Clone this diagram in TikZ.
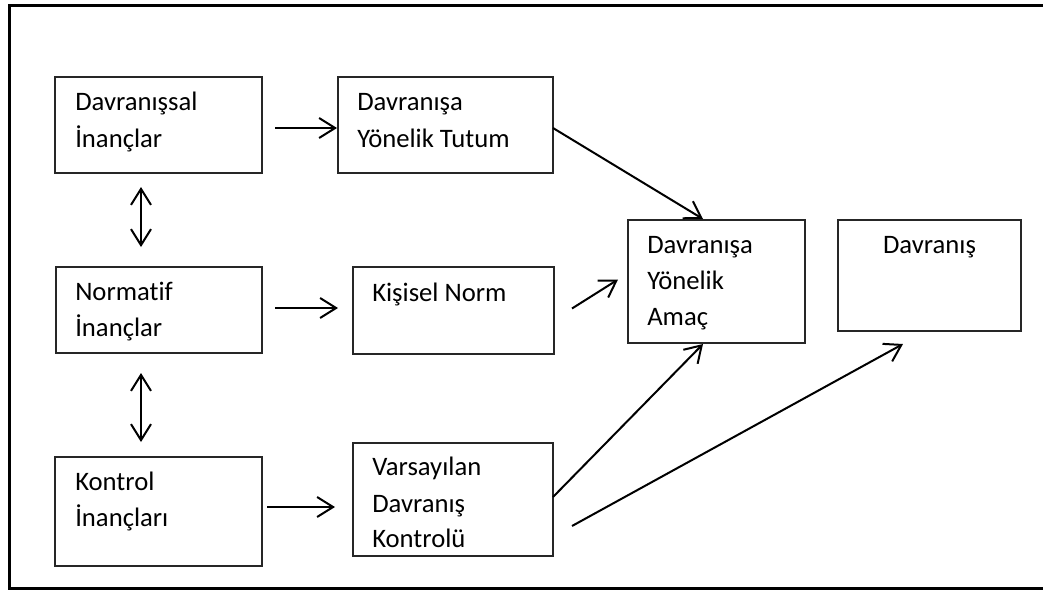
\documentclass[tikz,border=0pt]{standalone}
\usepackage{fontspec}
\setmainfont{Carlito}[Ligatures=NoCommon]
\usetikzlibrary{arrows.meta,calc}
\tikzset{
  box/.style={draw=black!85,line width=1pt,rectangle,inner sep=0pt,outer sep=0pt},
  txt/.style={anchor=base west,inner sep=0pt,font=\fontsize{20pt}{24pt}\selectfont},
  arr/.style={line width=1.5pt,-{Straight Barb[length=12pt,width=15pt,line width=1.5pt]}},
  darr/.style={line width=1.5pt,{Straight Barb[length=12pt,width=15pt,line width=1.5pt]}-{Straight Barb[length=12pt,width=15pt,line width=1.5pt]}},
  frame/.style={line width=2.25pt}
}
\begin{document}
\begin{tikzpicture}[x=0.75pt,y=-0.75pt]
\useasboundingbox (0,0) rectangle (1043,590);
\clip (0,0) rectangle (1043,590);
\fill[white] (0,0) rectangle (1043,590);
\draw[frame] (9,5) rectangle (1060,588);
% boxes
\node[box,minimum width=155.25pt,minimum height=72pt] (A) at (158.5,125) {};
\node[box,minimum width=161.25pt,minimum height=72pt] (B) at (445.5,125) {};
\node[box,minimum width=154.5pt,minimum height=64.5pt] (C) at (159,310) {};
\node[box,minimum width=150.75pt,minimum height=65.25pt] (D) at (453.5,310.5) {};
\node[box,minimum width=155.25pt,minimum height=81.75pt] (E) at (158.5,511.5) {};
\node[box,minimum width=150pt,minimum height=84.75pt] (F) at (453,499.5) {};
\node[box,minimum width=132.75pt,minimum height=92.25pt] (G) at (716.5,281.5) {};
\node[box,minimum width=137.25pt,minimum height=83.25pt] (H) at (929.5,275.5) {};
% texts
\node[txt] (a1) at (75,110) {Davranışsal};
\node[txt] (a2) at (75,147) {İnançlar};
\node[txt] (b1) at (357,110) {Davranışa};
\node[txt] (b2) at (357,147) {Yönelik Tutum};
\node[txt] (c1) at (75,300) {Normatif};
\node[txt] (c2) at (75,336) {İnançlar};
\node[txt] (d1) at (372,301) {Kişisel Norm};
\node[txt] (e1) at (75,490) {Kontrol};
\node[txt] (e2) at (75,526) {İnançları};
\node[txt] (f1) at (372,475) {Varsayılan};
\node[txt] (f2) at (372,512) {Davranış};
\node[txt] (f3) at (372,547) {Kontrolü};
\node[txt] (g1) at (647,253) {Davranışa};
\node[txt] (g2) at (647,289) {Yönelik};
\node[txt] (g3) at (647,325) {Amaç};
\node[txt,anchor=base] (h1) at (929.5,253) {Davranış};
% connectors
\draw[arr] ($(A.east)+(13,3)$) -- ($(B.west)+(-1,3)$);
\draw[darr] ($(A.south west)+(86,14)$) -- ($(C.north west)+(85,-20)$);
\draw[darr] ($(C.south west)+(85,20)$) -- ($(E.north west)+(86,-15)$);
\draw[arr] ($(C.east)+(13,-2)$) -- ($(D.west)+(-15,-2.5)$);
\draw[arr] ($(E.east)+(5,-4.5)$) -- ($(F.west)+(-18,7.5)$);
\draw[arr] ($(B.east)+(0,3)$) -- ($(G.north west)+(75,-1)$);
\draw[arr] ($(D.east)+(18,-2)$) -- ($(G.west)+(-10,-2)$);
\draw[arr] ($(F.east)+(0,-2.5)$) -- ($(G.south west)+(75,1)$);
\draw[arr] ($(F.east)+(19,26.5)$) -- ($(H.south west)+(65,13)$);
\end{tikzpicture}
\end{document}
